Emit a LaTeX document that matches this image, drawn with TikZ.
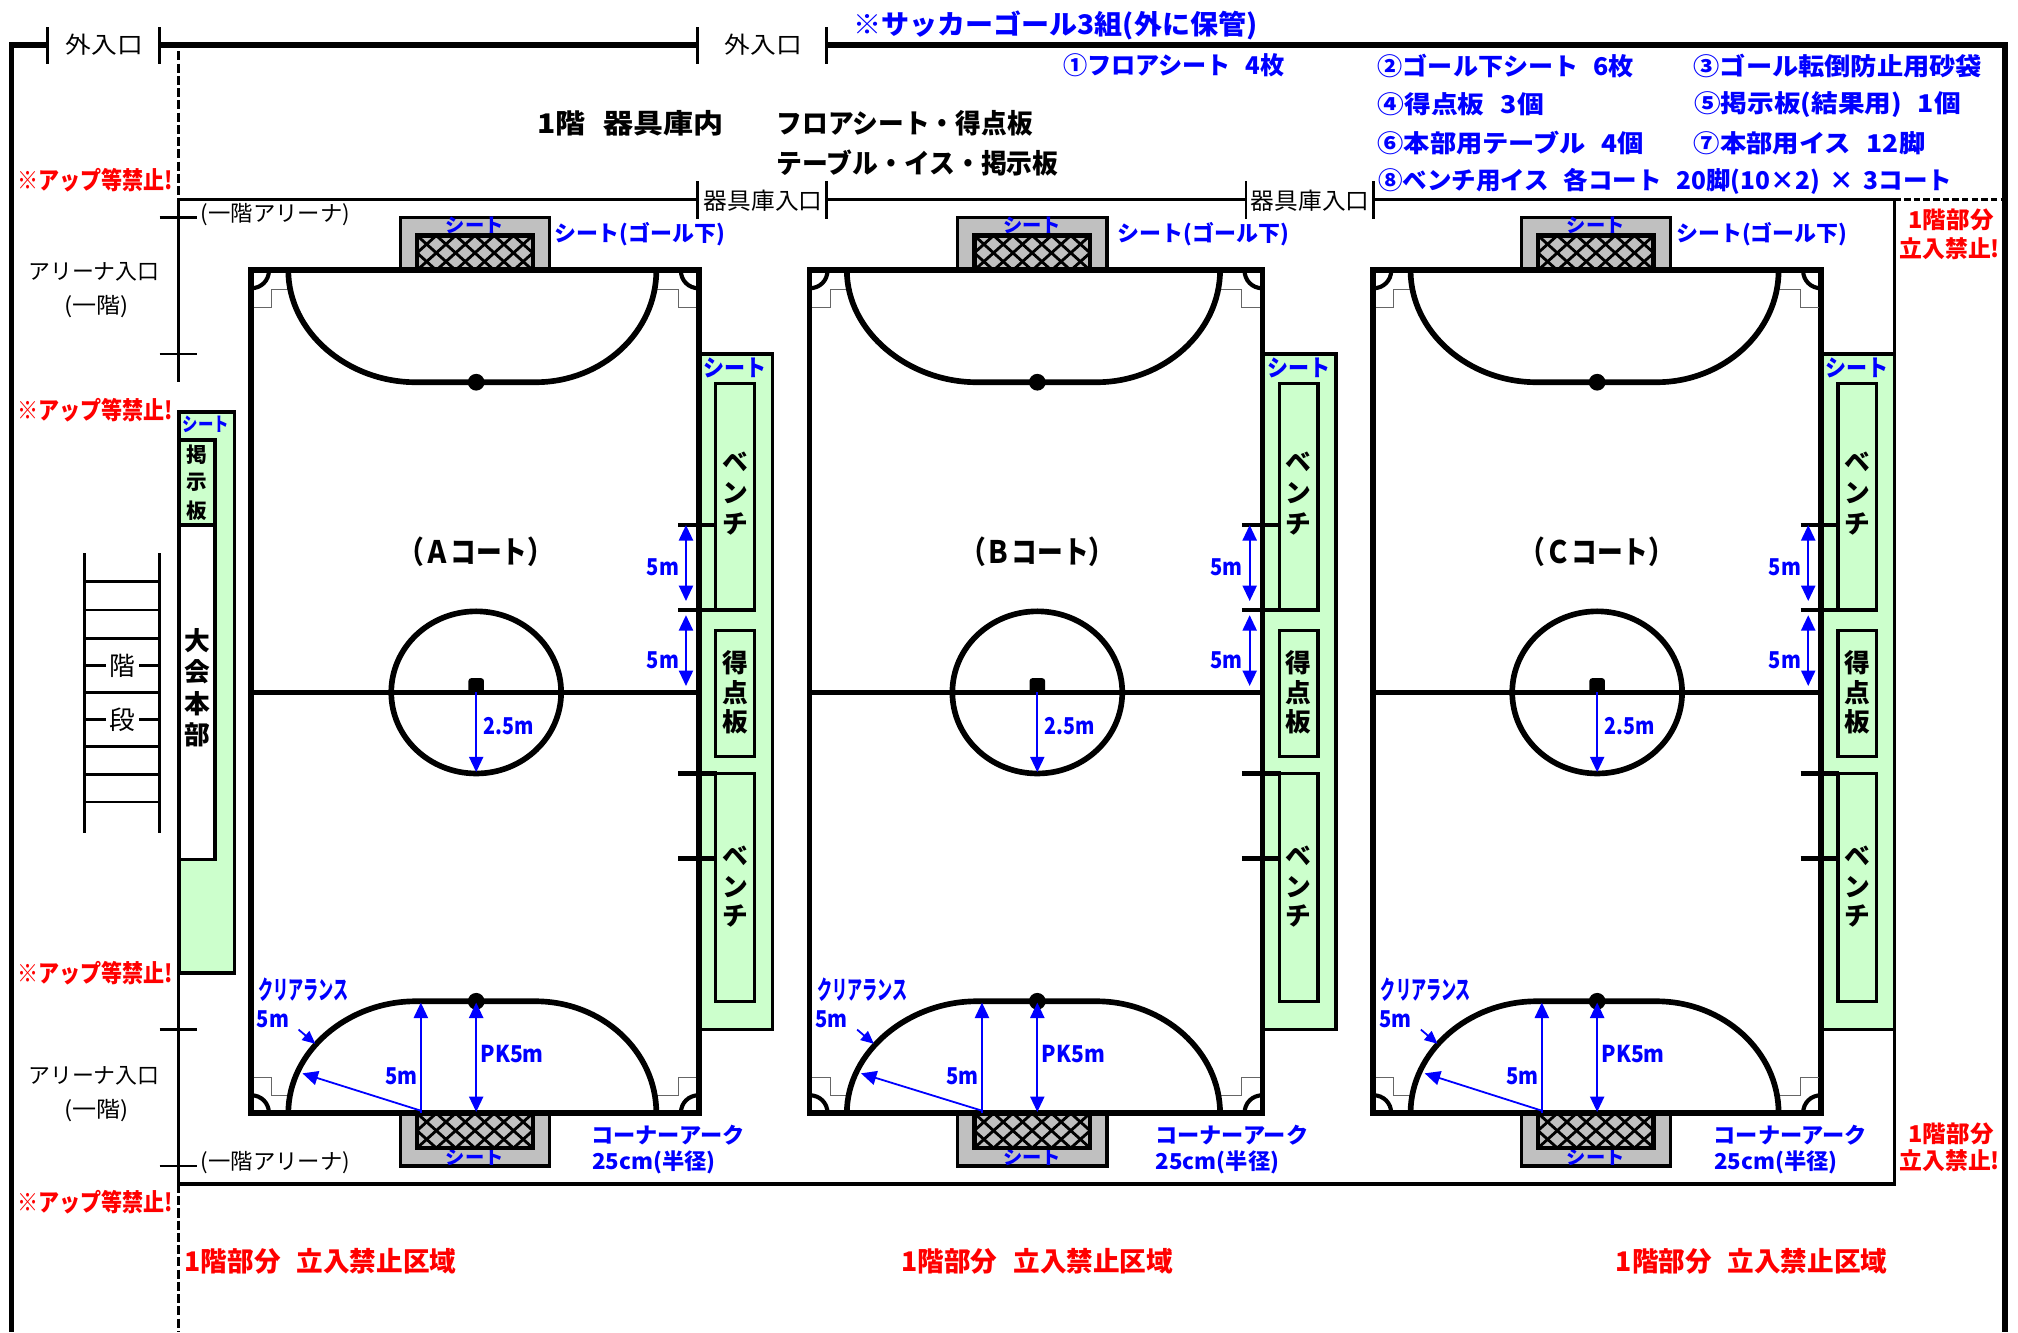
\documentclass[tikz,border=0pt]{standalone}
\usepackage{fontspec}
\usepackage{graphicx}
\setmainfont{Noto Sans CJK JP}
\usetikzlibrary{arrows.meta}
\definecolor{sheetgreen}{HTML}{CCFFCC}
\definecolor{goalgray}{HTML}{C0C0C0}
\definecolor{lblblue}{HTML}{0000FF}
\definecolor{lblred}{HTML}{FF0000}
\newcommand{\gap}{\hspace{.6em}}
\tikzset{
  x=1pt,y=-1pt,
  bluetxt/.style={text=lblblue,font=\bfseries,inner sep=0pt},
  redtxt/.style={text=lblred,font=\bfseries,inner sep=0pt},
  blacktxt/.style={text=black,inner sep=0pt},
  boldtxt/.style={text=black,font=\bfseries,inner sep=0pt},
  frameline/.style={line width=4.4pt,line cap=butt},
  wallline/.style={line width=2.4pt},
  tickline/.style={line width=2pt},
  courtline/.style={line width=4.4pt},
  boxline/.style={line width=2.6pt},
  stepline/.style={line width=0.8pt,draw=black!60},
  dim/.style={draw=lblblue,line width=1.4pt,-{Triangle[length=12pt,width=11pt]}},
  dimboth/.style={draw=lblblue,line width=1.4pt,{Triangle[length=12pt,width=11pt]}-{Triangle[length=12pt,width=11pt]}},
  dimshort/.style={draw=lblblue,line width=1.4pt,-{Triangle[length=10pt,width=9pt]}},
}
% style, x, y, width, font size, text
\newcommand{\lab}[6]{\node[#1] at (#2,#3) {\resizebox{#4pt}{\height}{\fontsize{#5pt}{#5pt}\selectfont #6}};}
% vertical stack of characters: style, x, size, then y/char list
\newcommand{\stackchars}[4]{\foreach \yy/\cc in {#4} {\node[#1] at (#2,\yy) {\fontsize{#3pt}{#3pt}\selectfont\cc};}}
% goal net: top y, bottom y, centre
\newcommand{\netbox}[3]{%
  \begin{scope}
    \clip (#3-45,#1) rectangle (#3+45,#2);
    \fill[goalgray] (#3-45,#1) rectangle (#3+45,#2);
    \foreach \k in {-6,...,8} {
      \draw[line width=2.2pt] (#3-45+\k*15,#1) -- ++(30,#2-#1);
      \draw[line width=2.2pt] (#3-45+\k*15,#1) -- ++(-30,#2-#1);
    }
  \end{scope}
  \draw[line width=3.6pt] (#3-45,#1) rectangle (#3+45,#2);
}
% court: left, width, centre (local), goal centre (local), label
\newcommand{\court}[5]{%
\begin{scope}[shift={(#1,0)}]
  \def\W{#2}\def\cx{#3}\def\gx{#4}
  % side sheet and its boxes
  \draw[boxline,fill=sheetgreen] (\W,275) rectangle (\W+57,800);
  \lab{bluetxt}{\W+28}{286}{49}{18}{シート}
  \draw[boxline] (\W+13,298) rectangle (\W+43,474);
  \draw[boxline] (\W+13,490) rectangle (\W+43,588);
  \draw[boxline] (\W+13,601) rectangle (\W+43,778);
  \stackchars{boldtxt}{\W+28}{20}{359/ベ,383/ン,407/チ}
  \stackchars{boldtxt}{\W+28}{20}{515/得,538/点,561/板}
  \stackchars{boldtxt}{\W+28}{20}{665/ベ,689/ン,712/チ}
  % goals
  \draw[boxline,fill=goalgray] (\gx-58,169) rectangle (\gx+58,210);
  \lab{bluetxt}{\gx}{175}{45}{15}{シート}
  \netbox{183}{210}{\gx}
  \draw[boxline,fill=goalgray] (\gx-58,865) rectangle (\gx+58,906);
  \lab{bluetxt}{\gx}{899}{45}{15}{シート}
  \netbox{865}{892}{\gx}
  \lab{bluetxt}{\W-46}{182}{133}{17}{シート(ゴール下)}
  % court
  \draw[courtline,fill=white] (0,210) rectangle (\W,865);
  \draw[stepline] (2,239) -- (16,239) -- (16,225) -- (29,225);
  \draw[stepline] (\W-2,239) -- (\W-16,239) -- (\W-16,225) -- (\W-33,225);
  \draw[stepline] (2,837) -- (16,837) -- (16,851) -- (29,851);
  \draw[stepline] (\W-2,837) -- (\W-16,837) -- (\W-16,851) -- (\W-33,851);
  \draw[line width=3.2pt] (14,210) .. controls (14,218) and (8,224) .. (0,224);
  \draw[line width=3.2pt] (\W-14,210) .. controls (\W-14,218) and (\W-8,224) .. (\W,224);
  \draw[line width=3.2pt] (14,865) .. controls (14,857) and (8,851) .. (0,851);
  \draw[line width=3.2pt] (\W-14,865) .. controls (\W-14,857) and (\W-8,851) .. (\W,851);
  % penalty arcs
  \draw[courtline] (29,210) .. controls (29,258) and (\cx-100,297) .. (\cx-47,297) -- (\cx+46,297)
     .. controls (\cx+98,297) and (\W-33,258) .. (\W-33,210);
  \draw[courtline] (29,865) .. controls (29,817) and (\cx-100,778) .. (\cx-47,778) -- (\cx+46,778)
     .. controls (\cx+98,778) and (\W-33,817) .. (\W-33,865);
  \fill (\cx,297) circle[radius=6.5pt];
  \fill (\cx,778) circle[radius=6.5pt];
  % halfway line and centre
  \draw[courtline] (0,538) -- (\W,538);
  \draw[courtline] (\cx,538) ellipse[x radius=66pt,y radius=63pt];
  \fill[rounded corners=2pt] (\cx-6,527) rectangle (\cx+6,538);
  \lab{boldtxt}{\cx}{429}{120}{24}{（#5コート）}
  % bench ticks
  \foreach \ty in {408,474,601,667} {\draw[line width=3.6pt] (\W-16,\ty) -- (\W+14,\ty);}
  \draw[dimboth] (\W-10,408) -- (\W-10,467);
  \draw[dimboth] (\W-10,478) -- (\W-10,533);
  \lab{bluetxt}{\W-28}{441}{25}{18}{5m}
  \lab{bluetxt}{\W-28}{513}{25}{18}{5m}
  % dimensions
  \draw[dim] (\cx,538) -- (\cx,600);
  \lab{bluetxt}{\cx+25}{564}{39}{18}{2.5m}
  \lab{bluetxt}{41}{769}{70}{20}{クリアランス}
  \lab{bluetxt}{17}{792}{25}{18}{5m}
  \draw[dimshort] (37,800) -- (50,811);
  \draw[dim] (\cx-43,865) -- (\cx-43,779);
  \draw[dim] (\cx-43,863) -- (40,834);
  \lab{bluetxt}{\cx-58}{836}{25}{18}{5m}
  \draw[dimboth] (\cx,779) -- (\cx,864);
  \lab{bluetxt}{\cx+28}{819}{49}{18}{PK5m}
  \lab{bluetxt}{\W-24}{882}{119}{17}{コーナーアーク}
  \lab{bluetxt}{\W-35}{903}{96}{17}{25cm(半径)}
\end{scope}}
\begin{document}
\begin{tikzpicture}
\useasboundingbox (0,0) rectangle (1568,1035);
% outer frame
\draw[frameline] (37,35) -- (9,35) -- (9,1035);
\draw[frameline] (124,35) -- (542,35);
\draw[frameline] (642,35) -- (1558,35) -- (1558,1035);
\foreach \tx in {37,124,542,642} {\draw[tickline] (\tx,21) -- (\tx,50);}
\lab{blacktxt}{81}{35}{60}{18}{外入口}
\lab{blacktxt}{593}{35}{60}{18}{外入口}
% top texts
\lab{bluetxt}{820}{20}{314}{21}{※サッカーゴール3組(外に保管)}
\lab{bluetxt}{912}{51}{172}{19}{①フロアシート\gap 4枚}
\lab{bluetxt}{1170}{51}{199}{19}{②ゴール下シート\gap 6枚}
\lab{bluetxt}{1428}{51}{224}{19}{③ゴール転倒防止用砂袋}
\lab{bluetxt}{1135}{81}{129}{19}{④得点板\gap 3個}
\lab{bluetxt}{1420}{81}{207}{19}{⑤掲示板(結果用)\gap 1個}
\lab{bluetxt}{1174}{111}{207}{19}{⑥本部用テーブル\gap 4個}
\lab{bluetxt}{1406}{111}{180}{19}{⑦本部用イス\gap 12脚}
\lab{bluetxt}{1294}{141}{446}{19}{⑧ベンチ用イス\gap 各コート\gap 20脚(10×2)\hspace{.4em}×\hspace{.4em}3コート}
\lab{boldtxt}{490}{96}{145}{21}{1階\gap 器具庫内}
\lab{boldtxt}{703}{96}{199}{21}{フロアシート・得点板}
\lab{boldtxt}{713}{127}{219}{21}{テーブル・イス・掲示板}
% dashed and walls
\draw[line width=2.2pt,dashed,dash pattern=on 7pt off 2.5pt] (139,40) -- (139,155);
\draw[line width=2.2pt,dashed,dash pattern=on 7pt off 2.5pt] (139,920) -- (139,1035);
\draw[line width=2.2pt,dashed,dash pattern=on 5pt off 2.5pt] (1472,155) -- (1558,155);
\draw[wallline] (139,155) -- (542,155);
\draw[wallline] (642,155) -- (968,155);
\draw[wallline] (1067,155) -- (1472,155) -- (1472,920) -- (139,920) -- (139,756);
\draw[wallline] (139,155) -- (139,297);
\foreach \tx in {542,642,968,1067} {\draw[tickline] (\tx,141) -- (\tx,170);}
\lab{blacktxt}{593}{156}{92}{18}{器具庫入口}
\lab{blacktxt}{1018}{156}{92}{18}{器具庫入口}
\foreach \ty in {169,275,800,906} {\draw[tickline] (124,\ty) -- (153,\ty);}
% entry labels
\lab{blacktxt}{214}{167}{116}{17}{(一階アリーナ)}
\lab{blacktxt}{214}{903}{116}{17}{(一階アリーナ)}
\lab{blacktxt}{73}{211}{102}{17}{アリーナ入口}
\lab{blacktxt}{75}{238}{50}{17}{(一階)}
\lab{blacktxt}{73}{836}{102}{17}{アリーナ入口}
\lab{blacktxt}{75}{863}{50}{17}{(一階)}
% warnings
\foreach \ty in {140,319,756,934} {\lab{redtxt}{74}{\ty}{121}{19}{※アップ等禁止!}}
\lab{redtxt}{249}{980}{211}{21}{1階部分\gap 立入禁止区域}
\lab{redtxt}{806}{980}{211}{21}{1階部分\gap 立入禁止区域}
\lab{redtxt}{1361}{980}{211}{21}{1階部分\gap 立入禁止区域}
\lab{redtxt}{1516}{171}{66}{18}{1階部分}
\lab{redtxt}{1515}{193}{78}{18}{立入禁止!}
\lab{redtxt}{1516}{881}{66}{18}{1階部分}
\lab{redtxt}{1515}{902}{78}{18}{立入禁止!}
% stairs
\draw[line width=2.4pt] (66,430) -- (66,647);
\draw[line width=2.4pt] (124,430) -- (124,647);
\foreach \ty in {452,474,496,517,538,559,580,602,623} {\draw[line width=2pt] (66,\ty) -- (124,\ty);}
\node[blacktxt,fill=white,inner xsep=3pt,inner ysep=0pt] at (95,517) {\fontsize{20pt}{20pt}\selectfont 階};
\node[blacktxt,fill=white,inner xsep=3pt,inner ysep=0pt] at (95,559) {\fontsize{20pt}{20pt}\selectfont 段};
% headquarters sheet
\draw[boxline,fill=sheetgreen] (139,320) rectangle (182,756);
\lab{bluetxt}{160}{330}{36}{15}{シート}
\draw[boxline] (139,342) rectangle (167,408);
\draw[boxline,fill=white] (139,408) rectangle (167,668);
\stackchars{boldtxt}{153}{16}{353/掲,375/示,397/板}
\stackchars{boldtxt}{153}{20}{498/大,522/会,547/本,571/部}
% courts
\court{195}{348}{175}{174}{Ａ}
\court{629}{352}{177}{173}{Ｂ}
\court{1067}{348}{174}{173}{Ｃ}
\end{tikzpicture}
\end{document}
